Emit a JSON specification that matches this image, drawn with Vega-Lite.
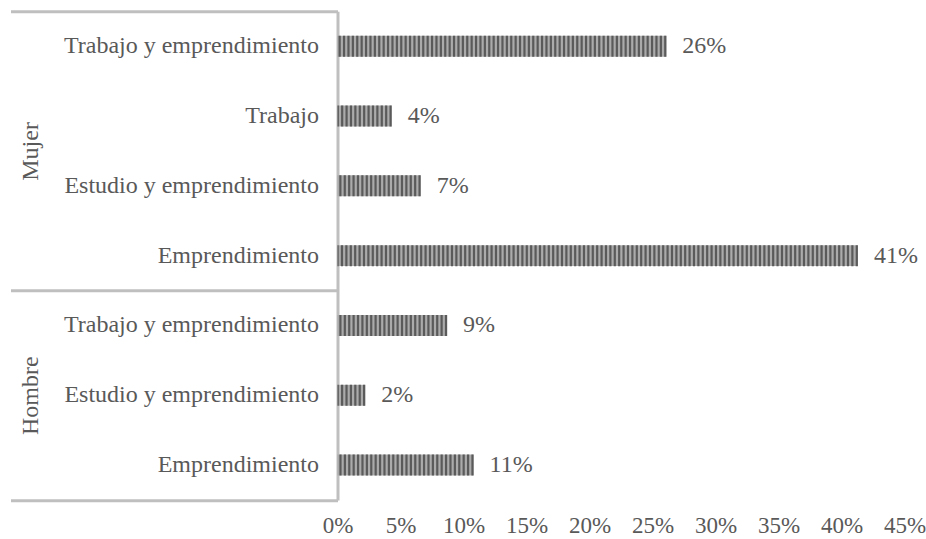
{
  "$schema": "https://vega.github.io/schema/vega-lite/v6.json",
  "autosize": {"type": "none"},
  "padding": {"left": 337.5, "top": 11.3, "right": 21.5, "bottom": 39},
  "width": 567,
  "height": 488.7,
  "background": "white",
  "config": {
    "view": {"stroke": null},
    "font": "Liberation Serif",
    "axis": {"labelFont": "Liberation Serif", "labelColor": "#595959", "labelFontSize": 24, "grid": false, "ticks": false, "domain": false}
  },
  "data": {
    "values": [
      {"grupo": "Mujer", "categoria": "Trabajo y emprendimiento", "clave": "Mujer|Trabajo y emprendimiento", "valor": 0.261},
      {"grupo": "Mujer", "categoria": "Trabajo", "clave": "Mujer|Trabajo", "valor": 0.043},
      {"grupo": "Mujer", "categoria": "Estudio y emprendimiento", "clave": "Mujer|Estudio y emprendimiento", "valor": 0.066},
      {"grupo": "Mujer", "categoria": "Emprendimiento", "clave": "Mujer|Emprendimiento", "valor": 0.413},
      {"grupo": "Hombre", "categoria": "Trabajo y emprendimiento", "clave": "Hombre|Trabajo y emprendimiento", "valor": 0.087},
      {"grupo": "Hombre", "categoria": "Estudio y emprendimiento", "clave": "Hombre|Estudio y emprendimiento", "valor": 0.022},
      {"grupo": "Hombre", "categoria": "Emprendimiento", "clave": "Hombre|Emprendimiento", "valor": 0.108}
    ]
  },
  "layer": [
    {
      "layer": [
        {
          "mark": {"type": "bar", "color": "#ababab"},
          "encoding": {
            "y": {
              "field": "clave", "type": "nominal", "sort": null,
              "scale": {"paddingInner": 0.7, "paddingOuter": 0.35},
              "axis": {"title": null, "domain": true, "domainColor": "#bfbfbf", "domainWidth": 3, "labelExpr": "split(datum.label, '|')[1]", "labelPadding": 19, "labelLimit": 0}
            },
            "x": {
              "field": "valor", "type": "quantitative",
              "scale": {"domain": [0, 0.45], "nice": false},
              "axis": {"title": null, "values": [0, 0.05, 0.1, 0.15, 0.2, 0.25, 0.3, 0.35, 0.4, 0.45], "format": ".0%", "labelPadding": 14, "labelFlush": false, "labelOverlap": false, "labelFontSize": 23}
            }
          }
        },
        {
          "mark": {"type": "rule", "color": "#5a5a5a", "strokeWidth": 21, "strokeDash": [2.2, 2.2]},
          "encoding": {
            "y": {"field": "clave", "type": "nominal", "sort": null},
            "x": {"field": "valor", "type": "quantitative"},
            "x2": {"datum": 0}
          }
        },
        {
          "mark": {"type": "text", "align": "left", "baseline": "middle", "dx": 16, "fontSize": 24, "color": "#595959", "font": "Liberation Serif"},
          "encoding": {
            "y": {"field": "clave", "type": "nominal", "sort": null},
            "x": {"field": "valor", "type": "quantitative"},
            "text": {"field": "valor", "type": "quantitative", "format": ".0%"}
          }
        }
      ]
    },
    {
      "mark": {"type": "point", "opacity": 0},
      "encoding": {
        "y": {
          "field": "valor", "type": "quantitative",
          "scale": {"domain": [0, 7], "nice": false, "zero": false},
          "axis": {
            "title": null, "orient": "left", "values": [0, 1.5, 3, 5, 7],
            "ticks": true, "tickSize": 327, "tickWidth": 3,
            "tickColor": {"condition": {"test": "datum.value == 1.5 || datum.value == 5", "value": "transparent"}, "value": "#bfbfbf"},
            "labelExpr": "datum.value == 1.5 ? 'Hombre' : datum.value == 5 ? 'Mujer' : ''",
            "labelAngle": -90, "labelAlign": "center", "labelBaseline": "bottom", "labelPadding": -31.5,
            "labelOverlap": false, "labelFlush": false, "labelBound": false, "domain": false, "grid": false
          }
        }
      }
    }
  ],
  "resolve": {"scale": {"y": "independent"}, "axis": {"y": "independent"}}
}
